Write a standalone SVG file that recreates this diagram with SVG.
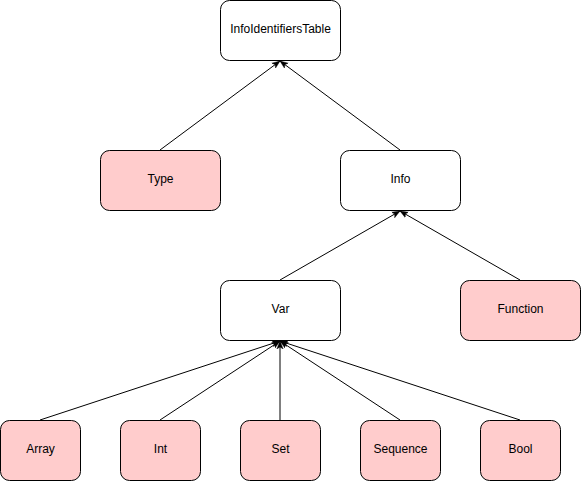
<svg xmlns="http://www.w3.org/2000/svg" width="582" height="484" viewBox="0 0 582 484">
<defs>
<marker id="arr" viewBox="0 0 10 10" refX="10" refY="5" markerWidth="8" markerHeight="8" markerUnits="userSpaceOnUse" orient="auto">
<path d="M0,1 L10,5 L0,9 L2.5,5 z" fill="#000" stroke="#000" stroke-width="0.5"/>
</marker>
</defs>
<style>
.node rect{stroke:#000;stroke-width:1}
.w rect{fill:#fff}
.p rect{fill:#ffcccc}
.node text{font-family:"Liberation Sans",Arial,sans-serif;font-size:12px;fill:#000;text-anchor:middle;dominant-baseline:central}
.edges line{stroke:#000;stroke-width:1;fill:none;marker-end:url(#arr)}
</style>
<rect width="582" height="484" fill="#fff"/>
<g class="edges">
<line x1="160" y1="150" x2="280" y2="61"/>
<line x1="400" y1="150" x2="280" y2="61"/>
<line x1="280" y1="280" x2="400" y2="211"/>
<line x1="520" y1="280" x2="400" y2="211"/>
<line x1="40" y1="420" x2="280" y2="341"/>
<line x1="160" y1="420" x2="280" y2="341"/>
<line x1="280" y1="420" x2="280" y2="341"/>
<line x1="400" y1="420" x2="280" y2="341"/>
<line x1="520" y1="420" x2="280" y2="341"/>
</g>
<g id="InfoIdentifiersTable" class="node w"><rect x="220.5" y="0.5" width="120" height="60" rx="9"/><text x="280.5" y="29">InfoIdentifiersTable</text></g>
<g id="Type" class="node p"><rect x="100.5" y="150.5" width="120" height="60" rx="9"/><text x="160.5" y="179">Type</text></g>
<g id="Info" class="node w"><rect x="340.5" y="150.5" width="120" height="60" rx="9"/><text x="400.5" y="179">Info</text></g>
<g id="Var" class="node w"><rect x="220.5" y="280.5" width="120" height="60" rx="9"/><text x="280.5" y="309">Var</text></g>
<g id="Function" class="node p"><rect x="460.5" y="280.5" width="120" height="60" rx="9"/><text x="520.5" y="309">Function</text></g>
<g id="Array" class="node p"><rect x="0.5" y="420.5" width="80" height="60" rx="9"/><text x="40.5" y="449">Array</text></g>
<g id="Int" class="node p"><rect x="120.5" y="420.5" width="80" height="60" rx="9"/><text x="160.5" y="449">Int</text></g>
<g id="Set" class="node p"><rect x="240.5" y="420.5" width="80" height="60" rx="9"/><text x="280.5" y="449">Set</text></g>
<g id="Sequence" class="node p"><rect x="360.5" y="420.5" width="80" height="60" rx="9"/><text x="400.5" y="449">Sequence</text></g>
<g id="Bool" class="node p"><rect x="480.5" y="420.5" width="80" height="60" rx="9"/><text x="520.5" y="449">Bool</text></g>
</svg>
